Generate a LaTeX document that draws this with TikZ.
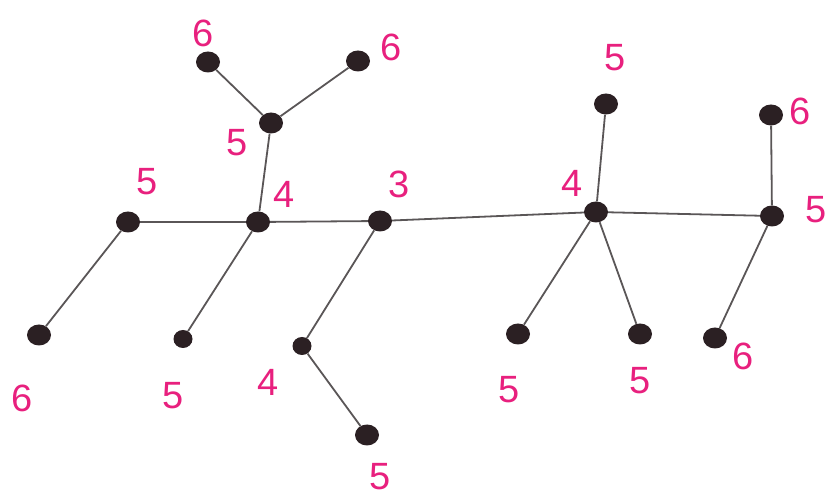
\documentclass[tikz,border=0pt]{standalone}
\usepackage{fontspec}
\setsansfont{Liberation Sans}
\usetikzlibrary{positioning}
\definecolor{dotcol}{HTML}{2B2023}
\definecolor{edgecol}{HTML}{5A5657}
\definecolor{numcol}{HTML}{E8207E}
\tikzset{
  vtx/.style={ellipse, fill=dotcol, inner sep=0pt, minimum width=24pt, minimum height=21pt},
  num/.style={text=numcol, font=\sffamily\fontsize{38}{40}\selectfont, inner sep=0pt},
  tedge/.style={draw=edgecol, line width=1.8pt}
}
\usetikzlibrary{shapes.geometric}
\begin{document}
\begin{tikzpicture}[x=1pt, y=-1pt]
  \useasboundingbox (0,0) rectangle (833,502);
           % spine
           \node[vtx] (a) at (128,222) {};
           \node[vtx] (b) at (258,222) {};
           \node[vtx] (c) at (380,221) {};
           \node[vtx] (d) at (596,212) {};
           \node[vtx] (e) at (772,216) {};
           % branches
           \node[vtx] (a1) at (39,335) {};
           \node[vtx] (b1) at (271,123) {};
           \node[vtx] (b11) at (208,62) {};
           \node[vtx] (b12) at (358,61) {};
           \node[vtx, minimum width=19pt, minimum height=18pt] (b2) at (183,339) {};
           \node[vtx, minimum width=19pt, minimum height=18pt] (c1) at (302,346) {};
           \node[vtx] (c11) at (367,435) {};
           \node[vtx] (d1) at (606,104) {};
           \node[vtx] (d2) at (518,334) {};
           \node[vtx] (d3) at (640,334) {};
           \node[vtx] (e1) at (771,115) {};
           \node[vtx] (e2) at (715,338) {};
           % numbers
           \node[num] (na) at (147,182) {5};
           \node[num] (nb) at (284,194) {4};
           \node[num] (nc) at (399,184) {3};
           \node[num] (nd) at (572,183) {4};
           \node[num] (ne) at (816,210) {5};
           \node[num] (na1) at (22,398) {6};
           \node[num] (nb1) at (237,143) {5};
           \node[num] (nb11) at (203,33) {6};
           \node[num] (nb12) at (391,47) {6};
           \node[num] (nb2) at (173,396) {5};
           \node[num] (nc1) at (268,382) {4};
           \node[num] (nc11) at (380,477) {5};
           \node[num] (nd1) at (615,58) {5};
           \node[num] (nd2) at (509,390) {5};
           \node[num] (nd3) at (640,381) {5};
           \node[num] (ne1) at (800,111) {6};
           \node[num] (ne2) at (743,356) {6};
            \path[tedge]
            (a) edge (b) (b) edge (c) (c) edge (d) (d) edge (e)
            (a) edge (a1)
            (b) edge (b1) (b1) edge (b11) (b1) edge (b12)
            (b) edge (b2)
            (c) edge (c1) (c1) edge (c11)
            (d) edge (d1) (d) edge (d2) (d) edge (d3)
            (e) edge (e1) (e) edge (e2);
\end{tikzpicture}
\end{document}
